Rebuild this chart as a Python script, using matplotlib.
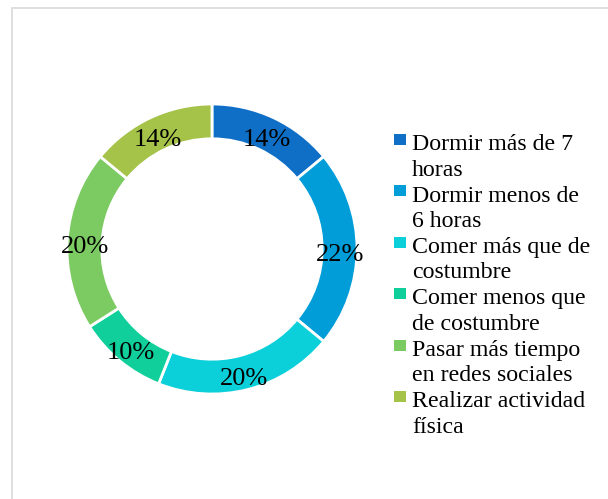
import matplotlib.pyplot as plt
from matplotlib.patches import Rectangle
from matplotlib.transforms import ScaledTranslation

# datos
categorias = ['Dormir más de 7\nhoras', 'Dormir menos de\n6 horas', 'Comer más que de\ncostumbre',
              'Comer menos que\nde costumbre', 'Pasar más tiempo\nen redes sociales',
              'Realizar actividad\nfísica']
porcentajes = [14, 22, 20, 10, 20, 14]
colores = ['#0F6FC6', '#009DD9', '#0BD0D9', '#10CF9B', '#7CCA62', '#A5C249']

plt.rcParams['font.family'] = ['Liberation Serif', 'DejaVu Serif']

W, H = 608, 499
fig = plt.figure(figsize=(W / 100, H / 100), dpi=100)

# marco gris claro
fig.patches.append(Rectangle((12 / W, -0.1), 1.2, 1 - 8 / H + 0.1, transform=fig.transFigure,
                             fill=False, edgecolor='#D9D9D9', linewidth=1.2))

cx, cy, r = 212, 249, 145
ax = fig.add_axes([(cx - r) / W, (H - cy - r) / H, 2 * r / W, 2 * r / H])
wedges, textos, pcts = ax.pie(porcentajes, colors=colores, startangle=90, counterclock=False,
                              autopct='%d%%', pctdistance=0.88,
                              wedgeprops=dict(width=0.24, edgecolor='white', linewidth=2),
                              textprops=dict(fontsize=19, color='black'))
# las etiquetas del original quedan un poco mas abajo
bajar = ScaledTranslation(0, -6 / 100, fig.dpi_scale_trans)
for t in pcts:
    t.set_transform(ax.transData + bajar)
ax.set_xlim(-1, 1)
ax.set_ylim(-1, 1)
ax.axis('off')

# leyenda: dos lineas por entrada
y0 = 150
linea = 25.7
for i, (cat, col) in enumerate(zip(categorias, colores)):
    yb = y0 + i * 2 * linea
    fig.patches.append(Rectangle((394 / W, 1 - (yb - 5) / H), 12 / W, 11 / H,
                                 transform=fig.transFigure, facecolor=col, edgecolor='none'))
    # la linea base que usa matplotlib es la de la ultima linea
    fig.text(412 / W, 1 - (yb + linea) / H, cat, fontsize=17.2, va='baseline', ha='left',
             linespacing=1.28)

fig.savefig('out.png', dpi=100, facecolor='white')
